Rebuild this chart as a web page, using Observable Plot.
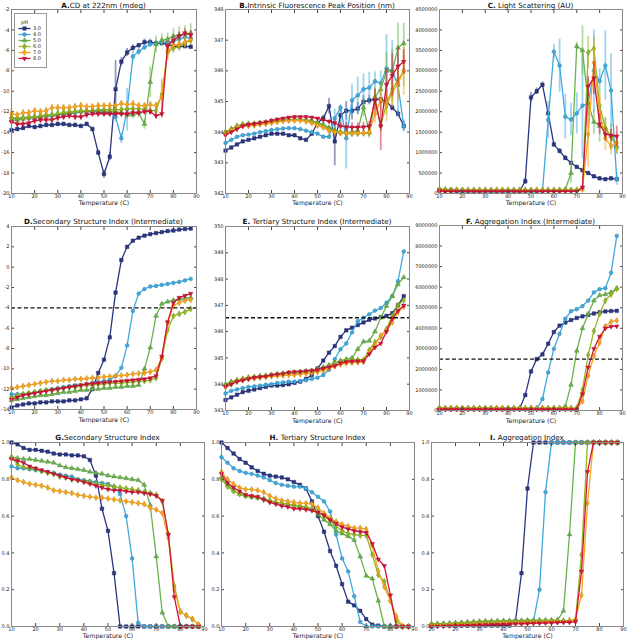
<!DOCTYPE html>
<html><head><meta charset="utf-8">
<script src="https://cdn.jsdelivr.net/npm/d3@7"></script>
<script src="https://cdn.jsdelivr.net/npm/@observablehq/plot@0.6"></script>
<style>
body{margin:0;background:#fff;font-family:"DejaVu Sans",sans-serif;}
#root{position:relative;width:627px;height:640px;overflow:hidden;background:#fff;}
#root svg{position:absolute;}
.title{position:absolute;transform:translateX(-50%);font-size:7.2px;line-height:9px;white-space:nowrap;color:#111;}
</style></head><body><div id="root"></div>
<script>
// ---------- data ----------
const temps = [10,12.5,15,17.5,20,22.5,25,27.5,30,32.5,35,37.5,40,42.5,45,47.5,50,52.5,55,57.5,60,62.5,65,67.5,70,72.5,75,77.5,80,82.5,85,87.5];
const pHs = ["3.0","4.0","5.0","6.0","7.0","8.0"];
const xTicks = [10,20,30,40,50,60,70,80,90];
const cdTicks = [-20,-18,-16,-14,-12,-10,-8,-6,-4,-2];
const fluorTicks = [342,343,344,345,346,347,348];
const lsTicks = [0,500000,1000000,1500000,2000000,2500000,3000000,3500000,4000000,4500000];
const ssiTicks = [-14,-12,-10,-8,-6,-4,-2,0,2,4];
const tsiTicks = [343,344,345,346,347,348,349,350];
const aggTicks = [0,1000000,2000000,3000000,4000000,5000000,6000000,7000000,8000000,9000000];
const unitTicks = [0,0.2,0.4,0.6,0.8,1.0];

// A. CD at 222nm (order: pH 3,4,5,6,7,8)
const cd = [
 [-13.8,-13.7,-13.6,-13.4,-13.5,-13.4,-13.3,-13.3, -13.2,-13.2,-13.3,-13.3,-13.4,-13.2,-13.7,-16.0, -18.1,-16.4,-9.8,-7.1,-6.2,-5.75,-5.5,-5.2, -5.2,-5.3,-5.3,-5.4,-5.6,-5.6,-5.6,-5.65],
 [-12.6,-12.7,-12.6,-12.6,-12.6,-12.5,-12.4,-12.4, -12.3,-12.2,-12.2,-12.1,-12.0,-12.0,-12.0,-12.0, -12.1,-12.1,-12.5,-14.6,-11.8,-6.6,-6.1,-5.7, -5.4,-5.3,-5.2,-5.2,-5.1,-4.9,-4.7,-4.8],
 [-12.8,-12.8,-12.7,-12.6,-12.5,-12.5,-12.4,-12.3, -12.2,-12.2,-12.1,-12.0,-12.0,-11.9,-11.9,-11.9, -11.9,-12.0,-12.0,-12.1,-12.3,-12.3,-12.1,-13.2, -9.1,-5.4,-5.0,-4.9,-4.6,-4.5,-4.4,-4.3],
 [-12.6,-12.6,-12.6,-12.5,-12.5,-12.4,-12.3,-12.3, -12.2,-12.1,-12.0,-12.0,-11.9,-11.9,-11.9,-11.8, -11.8,-11.8,-11.8,-11.8,-11.7,-11.7,-11.7,-11.8, -11.9,-11.9,-10.3,-6.2,-5.8,-5.6,-5.3,-5.0],
 [-12.2,-12.3,-12.1,-12.1,-11.9,-12.0,-11.9,-11.6, -11.6,-11.6,-11.6,-11.5,-11.4,-11.5,-11.5,-11.4, -11.4,-11.4,-11.4,-11.2,-11.3,-11.2,-11.4,-11.4, -11.3,-11.4,-10.5,-6.0,-5.5,-5.4,-5.2,-4.9],
 [-13.0,-13.2,-13.2,-13.1,-12.9,-12.8,-12.8,-12.8, -12.6,-12.5,-12.4,-12.5,-12.5,-12.3,-12.2,-12.2, -12.2,-12.2,-12.2,-12.2,-12.2,-12.1,-12.1,-12.0, -12.0,-12.4,-12.2,-5.6,-5.0,-4.6,-4.3,-4.5]
];
const cdErr = [
 [0.2,0.2,0.2,0.2,0.2,0.2,0.2,0.2, 0.2,0.2,0.2,0.2,0.2,0.2,0.2,0.3, 0.4,0.4,2.8,0.4,0.4,0.3,0.2,0.3, 0.3,0.2,0.2,0.2,0.2,0.2,0.2,0.2],
 [0.3,0.3,0.3,0.3,0.3,0.3,0.3,0.3, 0.3,0.3,0.3,0.3,0.3,0.3,0.3,0.3, 0.3,0.3,0.5,0.5,2.1,0.5,0.4,0.3, 0.3,0.3,0.3,0.3,0.3,0.3,0.3,0.3],
 [0.4,0.4,0.4,0.4,0.4,0.4,0.4,0.4, 0.4,0.4,0.4,0.4,0.4,0.4,0.4,0.4, 0.4,0.4,0.4,0.4,0.4,0.4,0.5,0.5, 1.5,0.8,0.6,0.6,0.7,0.8,0.8,0.9],
 [0.3,0.3,0.3,0.3,0.3,0.3,0.3,0.3, 0.3,0.3,0.3,0.3,0.3,0.3,0.3,0.3, 0.3,0.3,0.3,0.3,0.3,0.3,0.3,0.3, 0.3,0.4,1.5,0.8,0.5,0.5,0.5,0.5],
 [0.5,0.3,0.3,0.3,0.3,0.3,0.3,0.3, 0.3,0.3,0.3,0.3,0.3,0.3,0.3,0.3, 0.3,0.3,0.3,0.3,0.3,0.3,0.3,0.3, 0.3,0.3,1.5,1.0,0.5,0.5,0.5,0.5],
 [0.3,0.3,0.3,0.3,0.3,0.3,0.3,0.3, 0.3,0.3,0.3,0.3,0.3,0.3,0.3,0.3, 0.3,0.3,0.3,0.3,0.3,0.3,0.3,0.3, 0.3,0.3,0.4,0.5,0.4,0.4,0.4,0.4]
];

// B. Intrinsic fluorescence peak position (nm)
const fluor = [
 [343.4,343.5,343.6,343.7,343.75,343.8,343.85,343.9, 343.95,343.95,343.95,343.9,343.9,343.8,343.75,343.95, 344.3,344.45,344.85,343.7,344.55,344.7,344.7,344.77, 344.99,345.04,345.07,345.07,345.0,344.8,344.6,344.2],
 [343.65,343.75,343.85,343.9,343.92,343.95,344.0,344.03, 344.07,344.1,344.12,344.13,344.13,344.1,344.05,344.0, 343.95,343.85,343.85,344.45,344.8,343.8,345.04,345.2, 345.4,345.45,345.66,345.6,346.08,345.99,345.53,344.2],
 [344.0,344.1,344.2,344.25,344.28,344.28,344.3,344.32, 344.35,344.38,344.4,344.42,344.42,344.42,344.4,344.38, 344.3,344.25,344.15,344.05,344.0,344.0,344.0,344.05, 344.8,344.0,345.15,345.4,346.0,346.0,346.75,346.9],
 [344.0,344.1,344.2,344.25,344.25,344.27,344.3,344.32, 344.35,344.37,344.4,344.4,344.42,344.42,344.4,344.35, 344.28,344.2,344.1,344.02,343.97,343.95,343.95,343.95, 343.96,343.97,345.1,344.2,344.95,345.4,345.7,346.0],
 [343.95,344.05,344.15,344.2,344.2,344.22,344.25,344.27, 344.3,344.33,344.36,344.38,344.38,344.38,344.35,344.3, 344.22,344.15,344.05,344.0,343.98,343.97,343.97,343.97, 343.98,344.0,344.6,345.05,344.85,345.3,345.6,346.0],
 [343.9,344.0,344.1,344.2,344.25,344.27,344.3,344.33, 344.38,344.42,344.45,344.48,344.5,344.5,344.5,344.48, 344.45,344.4,344.35,344.3,344.2,344.17,344.16,344.16, 344.17,344.2,345.05,344.2,345.55,345.85,346.15,346.3]
];
const fluorErr = [
 [0.03,0.03,0.03,0.03,0.03,0.03,0.03,0.03, 0.03,0.03,0.03,0.03,0.03,0.03,0.03,0.05, 0.05,0.1,0.25,0.8,0.3,0.3,0.3,0.2, 0.2,0.15,0.15,0.15,0.1,0.1,0.1,0.15],
 [0.03,0.03,0.03,0.03,0.03,0.03,0.03,0.03, 0.03,0.03,0.03,0.03,0.03,0.03,0.03,0.03, 0.05,0.05,0.05,0.3,0.1,1.0,0.5,0.6, 0.5,0.5,0.3,0.4,1.1,1.0,1.0,0.2],
 [0.03,0.03,0.03,0.03,0.03,0.03,0.03,0.03, 0.03,0.03,0.03,0.03,0.03,0.03,0.03,0.03, 0.03,0.03,0.05,0.1,0.1,0.1,0.1,0.1, 0.3,0.2,0.3,0.2,0.6,0.7,0.8,0.65],
 [0.03,0.03,0.03,0.03,0.03,0.03,0.03,0.03, 0.03,0.03,0.03,0.03,0.03,0.03,0.03,0.03, 0.03,0.03,0.03,0.05,0.05,0.05,0.05,0.05, 0.05,0.05,0.3,0.2,0.4,0.5,0.5,0.5],
 [0.03,0.03,0.03,0.03,0.03,0.03,0.03,0.03, 0.03,0.03,0.03,0.03,0.03,0.03,0.03,0.03, 0.03,0.03,0.03,0.03,0.03,0.03,0.03,0.03, 0.05,0.05,0.3,0.4,0.5,0.5,0.6,0.8],
 [0.03,0.03,0.03,0.03,0.03,0.03,0.03,0.03, 0.03,0.03,0.03,0.03,0.03,0.03,0.03,0.03, 0.03,0.03,0.05,0.05,0.1,0.15,0.15,0.15, 0.15,0.15,0.35,0.8,0.5,0.7,0.6,0.4]
];

// C. Light scattering (AU)
const ls = [
 [90000,80000,80000,70000,70000,60000,60000,60000, 60000,60000,60000,60000,60000,60000,60000,300000, 2350000,2500000,2660000,1960000,1200000,1040000,870000,750000, 650000,570000,500000,420000,370000,350000,370000,350000],
 [50000,50000,50000,40000,40000,40000,40000,40000, 40000,40000,40000,40000,40000,40000,40000,40000, 40000,40000,50000,1800000,3470000,3130000,1880000,1810000, 1960000,2150000,2200000,3000000,2750000,3130000,2520000,350000],
 [80000,80000,70000,70000,70000,70000,70000,70000, 70000,70000,70000,70000,70000,70000,70000,70000, 70000,70000,70000,70000,70000,70000,100000,500000, 3600000,3500000,2200000,1750000,1650000,1600000,1400000,1150000],
 [100000,100000,90000,90000,90000,90000,90000,90000, 90000,90000,90000,90000,90000,90000,90000,90000, 90000,90000,90000,90000,90000,90000,90000,90000, 90000,120000,3450000,3550000,2150000,1600000,1400000,1130000],
 [70000,60000,60000,60000,60000,60000,60000,60000, 60000,60000,60000,60000,60000,60000,60000,60000, 60000,60000,60000,60000,60000,60000,60000,60000, 60000,100000,1450000,3200000,2000000,1350000,1150000,1250000],
 [60000,50000,50000,50000,50000,50000,50000,50000, 50000,50000,50000,50000,50000,50000,50000,50000, 50000,50000,50000,50000,50000,50000,50000,50000, 50000,150000,2620000,2820000,1700000,1450000,1420000,1400000]
];
const lsErr = [
 [20000,20000,20000,20000,20000,20000,20000,20000, 20000,20000,20000,20000,20000,20000,20000,80000, 120000,80000,70000,50000,60000,60000,60000,40000, 40000,40000,40000,40000,40000,40000,40000,40000],
 [20000,20000,20000,20000,20000,20000,20000,20000, 20000,20000,20000,20000,20000,20000,20000,20000, 20000,20000,20000,450000,180000,650000,550000,400000, 500000,1300000,300000,1000000,300000,850000,900000,150000],
 [20000,20000,20000,20000,20000,20000,20000,20000, 20000,20000,20000,20000,20000,20000,20000,20000, 20000,20000,20000,20000,20000,20000,30000,250000, 100000,600000,600000,300000,400000,250000,300000,200000],
 [20000,20000,20000,20000,20000,20000,20000,20000, 20000,20000,20000,20000,20000,20000,20000,20000, 20000,20000,20000,20000,20000,20000,20000,20000, 20000,30000,400000,300000,300000,250000,200000,150000],
 [20000,20000,20000,20000,20000,20000,20000,20000, 20000,20000,20000,20000,20000,20000,20000,20000, 20000,20000,20000,20000,20000,20000,20000,20000, 20000,30000,800000,500000,400000,300000,200000,250000],
 [20000,20000,20000,20000,20000,20000,20000,20000, 20000,20000,20000,20000,20000,20000,20000,20000, 20000,20000,20000,20000,20000,20000,20000,20000, 20000,30000,250000,400000,250000,150000,150000,250000]
];

// D. Secondary structure index (intermediate)
const ssiInt = [
 [-13.8,-13.6,-13.5,-13.4,-13.4,-13.3,-13.3,-13.2, -13.2,-13.2,-13.1,-13.1,-13.0,-12.9,-12.0,-10.4, -9.1,-6.9,-2.5,0.7,2.0,2.6,2.9,3.1, 3.25,3.35,3.45,3.55,3.6,3.7,3.75,3.8],
 [-12.5,-12.5,-12.5,-12.4,-12.3,-12.2,-12.1,-12.0, -11.9,-11.8,-11.7,-11.6,-11.6,-11.5,-11.4,-11.3, -11.2,-11.1,-10.7,-9.9,-7.7,-4.3,-2.6,-2.15, -1.9,-1.85,-1.75,-1.65,-1.55,-1.45,-1.3,-1.15],
 [-13.1,-13.0,-12.9,-12.8,-12.7,-12.6,-12.6,-12.5, -12.4,-12.3,-12.3,-12.2,-12.1,-12.1,-12.0,-12.0, -11.9,-11.9,-11.8,-11.8,-11.7,-11.7,-11.6,-10.0, -7.9,-4.8,-3.6,-3.4,-3.25,-3.15,-3.05,-3.0],
 [-12.8,-12.6,-12.5,-12.4,-12.3,-12.2,-12.1,-12.1, -12.0,-11.9,-11.8,-11.8,-11.7,-11.6,-11.6,-11.5, -11.5,-11.4,-11.4,-11.4,-11.3,-11.3,-11.2,-11.2, -11.1,-10.9,-9.0,-6.2,-4.8,-4.6,-4.4,-4.1],
 [-11.9,-11.8,-11.7,-11.6,-11.5,-11.4,-11.3,-11.2, -11.2,-11.1,-11.1,-11.0,-11.0,-10.95,-10.9,-10.85, -10.8,-10.75,-10.7,-10.65,-10.6,-10.5,-10.45,-10.4, -10.3,-10.1,-8.9,-5.5,-3.8,-3.5,-3.3,-3.2],
 [-13.0,-12.8,-12.6,-12.5,-12.4,-12.3,-12.2,-12.1, -12.0,-11.9,-11.8,-11.7,-11.6,-11.5,-11.45,-11.4, -11.35,-11.3,-11.25,-11.2,-11.15,-11.1,-11.05,-11.0, -10.9,-10.7,-8.8,-5.4,-3.5,-3.0,-2.8,-2.6]
];
// E. Tertiary structure index (intermediate)
const tsiInt = [
 [343.4,343.5,343.6,343.7,343.75,343.8,343.85,343.9, 343.95,343.95,343.97,344.0,344.05,344.1,344.2,344.35, 344.6,344.9,345.2,345.45,345.8,346.05,346.15,346.25, 346.35,346.45,346.5,346.55,346.6,346.7,347.0,347.35],
 [343.65,343.75,343.8,343.85,343.9,343.92,343.95,343.98, 344.0,344.05,344.07,344.1,344.1,344.12,344.15,344.2, 344.25,344.35,344.55,344.95,345.33,345.55,345.97,346.4, 346.53,346.66,346.8,346.9,347.1,347.35,347.92,349.05],
 [344.0,344.1,344.15,344.2,344.25,344.28,344.3,344.32, 344.35,344.38,344.4,344.43,344.45,344.47,344.5,344.52, 344.58,344.65,344.72,344.8,344.9,344.95,345.0,345.33, 345.62,345.65,346.0,346.53,346.97,347.35,347.8,348.07],
 [343.95,344.05,344.15,344.2,344.25,344.27,344.3,344.32, 344.35,344.37,344.4,344.42,344.43,344.45,344.47,344.5, 344.55,344.6,344.7,344.8,344.85,344.9,344.92,344.93, 344.93,345.3,345.6,345.8,346.1,346.6,347.0,347.2],
 [343.9,344.0,344.1,344.15,344.2,344.22,344.25,344.27, 344.3,344.32,344.33,344.35,344.36,344.38,344.4,344.43, 344.47,344.52,344.6,344.68,344.75,344.8,344.82,344.83, 344.85,345.2,345.5,345.85,346.05,346.35,346.75,346.95],
 [343.9,344.0,344.1,344.15,344.2,344.25,344.28,344.3, 344.35,344.38,344.4,344.45,344.47,344.48,344.5,344.52, 344.55,344.6,344.65,344.7,344.8,344.85,344.87,344.88, 344.88,345.15,345.4,345.55,346.0,346.5,346.8,347.0]
];
// F. Aggregation index (intermediate)
const aggInt = [
 [80000,80000,80000,80000,80000,80000,80000,80000, 80000,80000,80000,80000,80000,80000,80000,750000, 1900000,2500000,2730000,3250000,3820000,4130000,4280000,4400000, 4500000,4580000,4650000,4720000,4780000,4820000,4840000,4850000],
 [60000,60000,60000,60000,60000,60000,60000,60000, 60000,60000,60000,60000,60000,60000,60000,60000, 60000,60000,560000,1850000,3000000,3730000,4470000,4830000, 4930000,5080000,5350000,5750000,5900000,5950000,6700000,8500000],
 [100000,100000,100000,100000,100000,100000,100000,100000, 100000,100000,100000,100000,100000,100000,100000,100000, 100000,100000,100000,100000,100000,100000,200000,1250000, 2900000,4000000,4700000,5350000,5600000,5650000,5750000,5950000],
 [120000,120000,120000,120000,120000,120000,120000,120000, 120000,120000,120000,120000,120000,120000,120000,120000, 120000,120000,120000,120000,120000,120000,120000,120000, 130000,1000000,2700000,3870000,4700000,5350000,5650000,5920000],
 [80000,80000,80000,80000,80000,80000,80000,80000, 80000,80000,80000,80000,80000,80000,80000,80000, 80000,80000,80000,80000,80000,80000,80000,80000, 80000,450000,1700000,2650000,3300000,4100000,4320000,4380000],
 [50000,50000,50000,50000,50000,50000,50000,50000, 50000,50000,50000,50000,50000,50000,50000,50000, 50000,50000,50000,50000,50000,50000,50000,50000, 50000,800000,2100000,3000000,3600000,4000000,4080000,4100000]
];
// G. Secondary structure index
const ssi = [
 [1.0,0.99,0.97,0.96,0.96,0.955,0.95,0.94, 0.935,0.935,0.93,0.93,0.925,0.905,0.82,0.64, 0.52,0.29,0,0,0,0,0,0, 0,0,0,0,0,0,0,0],
 [0.87,0.86,0.86,0.855,0.85,0.845,0.84,0.835, 0.825,0.82,0.815,0.8,0.795,0.79,0.785,0.78, 0.775,0.76,0.72,0.6,0.37,0.02,0,0, 0,0,0,0,0,0,0,0],
 [0.92,0.915,0.91,0.91,0.905,0.9,0.895,0.89, 0.875,0.865,0.86,0.855,0.85,0.84,0.835,0.83, 0.82,0.815,0.81,0.805,0.8,0.795,0.77,0.66, 0.38,0.075,0,0,0,0,0,0],
 [0.92,0.88,0.865,0.86,0.855,0.845,0.835,0.83, 0.815,0.81,0.8,0.795,0.79,0.785,0.775,0.77, 0.765,0.76,0.755,0.75,0.745,0.74,0.73,0.725, 0.715,0.68,0.5,0.22,0.08,0.06,0.04,0.01],
 [0.81,0.795,0.785,0.775,0.77,0.765,0.755,0.74, 0.735,0.73,0.725,0.715,0.71,0.705,0.7,0.7, 0.695,0.69,0.685,0.68,0.675,0.67,0.665,0.645, 0.635,0.615,0.48,0.2,0.08,0.06,0.04,0.01],
 [0.91,0.9,0.89,0.87,0.86,0.85,0.84,0.83, 0.82,0.81,0.8,0.795,0.785,0.775,0.765,0.755, 0.745,0.74,0.74,0.735,0.73,0.73,0.725,0.72, 0.71,0.685,0.5,0.16,0,0,0,0]
];
// H. Tertiary structure index
const tsi = [
 [1.0,0.97,0.94,0.91,0.89,0.865,0.845,0.83, 0.82,0.815,0.81,0.8,0.785,0.77,0.75,0.68, 0.6,0.515,0.41,0.33,0.23,0.135,0.115,0.085, 0.04,0.01,0.005,0,0,0,0,0],
 [0.92,0.89,0.86,0.845,0.835,0.83,0.82,0.81, 0.795,0.78,0.77,0.765,0.76,0.76,0.75,0.73, 0.705,0.68,0.625,0.5,0.37,0.3,0.165,0.025, 0,0,0,0,0,0,0,0],
 [0.81,0.77,0.74,0.72,0.71,0.705,0.7,0.695, 0.685,0.675,0.67,0.665,0.66,0.655,0.645,0.635, 0.61,0.58,0.555,0.52,0.505,0.49,0.47,0.38, 0.275,0.26,0.14,0,0,0,0,0],
 [0.8,0.76,0.735,0.72,0.71,0.705,0.7,0.69, 0.68,0.675,0.67,0.665,0.66,0.655,0.65,0.64, 0.625,0.6,0.575,0.545,0.52,0.505,0.5,0.495, 0.495,0.39,0.28,0.245,0.14,0.03,0,0],
 [0.84,0.8,0.775,0.755,0.745,0.745,0.74,0.73, 0.71,0.695,0.685,0.68,0.675,0.67,0.67,0.665, 0.645,0.615,0.59,0.57,0.555,0.545,0.535,0.535, 0.53,0.44,0.3,0.215,0.14,0.055,0,0],
 [0.83,0.78,0.755,0.735,0.715,0.71,0.705,0.69, 0.675,0.665,0.655,0.65,0.64,0.64,0.635,0.63, 0.62,0.605,0.58,0.56,0.54,0.53,0.52,0.515, 0.51,0.45,0.365,0.33,0.17,0,0,0]
];
// I. Aggregation index
const agg = [
 [0.005,0.005,0.005,0.005,0.005,0.005,0.005,0.005, 0.005,0.005,0.005,0.005,0.005,0.005,0.03,0.29, 0.75,1,1,1,1,1,1,1, 1,1,1,1,1,1,1,1],
 [0.01,0.01,0.012,0.013,0.015,0.016,0.018,0.02, 0.02,0.022,0.024,0.025,0.026,0.027,0.028,0.029, 0.03,0.03,0.2,0.73,1,1,1,1, 1,1,1,1,1,1,1,1],
 [0.015,0.016,0.017,0.018,0.02,0.022,0.024,0.026, 0.028,0.03,0.03,0.031,0.032,0.032,0.033,0.033, 0.034,0.034,0.035,0.035,0.035,0.035,0.085,0.5, 1,1,1,1,1,1,1,1],
 [0.01,0.011,0.012,0.014,0.016,0.018,0.02,0.021, 0.022,0.024,0.025,0.026,0.027,0.027,0.028,0.028, 0.029,0.029,0.03,0.03,0.031,0.031,0.032,0.033, 0.035,0.39,1,1,1,1,1,1],
 [0.005,0.006,0.007,0.008,0.009,0.01,0.011,0.012, 0.013,0.014,0.015,0.016,0.017,0.018,0.019,0.02, 0.021,0.022,0.023,0.024,0.025,0.026,0.027,0.028, 0.04,0.17,0.67,1,1,1,1,1],
 [0.0,0.001,0.002,0.003,0.004,0.005,0.006,0.007, 0.008,0.009,0.01,0.011,0.012,0.013,0.014,0.015, 0.016,0.017,0.018,0.019,0.02,0.021,0.022,0.023, 0.025,0.3,0.84,1,1,1,1,1]
];

// ---------- styling ----------
const colors = ["#2a3680","#40a9dd","#69b34c","#93b822","#f7a51c","#d2143a"];
const edges = colors.map(c => d3.color(c).darker(0.9).formatHex());
const sqrt3 = Math.sqrt(3);
const triDown = {draw(ctx, size) { const y = Math.sqrt(size / (sqrt3 * 3)); ctx.moveTo(0, 2 * y); ctx.lineTo(-sqrt3 * y, -y); ctx.lineTo(sqrt3 * y, -y); ctx.closePath(); }};
const thinDiamond = {draw(ctx, size) { const h = Math.sqrt(size) * 0.95, w = h * 0.6; ctx.moveTo(0, -h); ctx.lineTo(w, 0); ctx.lineTo(0, h); ctx.lineTo(-w, 0); ctx.closePath(); }};
const symbols = ["square","circle","triangle","diamond", thinDiamond, triDown];
const symR = [2.0, 1.9, 1.8, 1.9, 1.8, 1.7];
const FS = 5;
const fmtInt = d => String(d);
const fmt1 = d => d.toFixed(1);

const panels = [
 {b:"A.", t:"CD at 222nm (mdeg)", s:cd, e:cdErr, f:[11,9,196,193], y:[-20,-2], yt:cdTicks, fmt:fmtInt, ty:5, ld:11.5},
 {b:"B.", t:"Intrinsic Fluorescence Peak Position (nm)", s:fluor, e:fluorErr, f:[225,9,409,193], y:[342,348], yt:fluorTicks, fmt:fmtInt, ty:5, ld:11.5},
 {b:"C.", t:" Light Scattering (AU)", s:ls, e:lsErr, f:[439,9,622,193], y:[0,4500000], yt:lsTicks, fmt:fmtInt, ty:5, ld:11.5},
 {b:"D.", t:"Secondary Structure Index (Intermediate)", s:ssiInt, f:[11,226,196,409], y:[-14,4], yt:ssiTicks, fmt:fmtInt, ref:-4, ty:221, ld:12.5},
 {b:"E.", t:" Tertiary Structure Index (Intermediate)", s:tsiInt, f:[225,226,409,410], y:[343,350], yt:tsiTicks, fmt:fmtInt, ref:346.53, ty:221, ld:12},
 {b:"F.", t:" Aggregation Index (Intermediate)", s:aggInt, f:[439,225,622,410], y:[0,9000000], yt:aggTicks, fmt:fmtInt, ref:2500000, ty:221, ld:12},
 {b:"G.", t:"Secondary Structure Index", s:ssi, f:[11,442,204,626], y:[0,1], yt:unitTicks, fmt:fmt1, ty:437, ld:11.2},
 {b:"H.", t:" Tertiary Structure Index", s:tsi, f:[221,442,414,626], y:[0,1], yt:unitTicks, fmt:fmt1, ty:437, ld:11.2},
 {b:"I.", t:" Aggregation Index", s:agg, f:[431,442,623,626], y:[0,1], yt:unitTicks, fmt:fmt1, ty:437, ld:11.2}
];

const root = document.getElementById("root");
const svgStyle = {background: "none", fontFamily: "DejaVu Sans, sans-serif", overflow: "visible", maxWidth: "none", color: "#222"};

for (const p of panels) {
  const [x0, y0, x1, y1] = p.f;
  const mL = 34, mR = 6, mT = 4, mB = 18;
  const marks = [];
  p.s.forEach((vals, k) => {
    const rows = vals.map((v, i) => ({t: temps[i], v, e: p.e ? p.e[k][i] : 0}));
    if (p.e) marks.push(Plot.ruleX(rows, {x: "t", y1: d => d.v - d.e, y2: d => d.v + d.e, stroke: colors[k], strokeOpacity: 0.5, strokeWidth: 1.8}));
    marks.push(Plot.line(rows, {x: "t", y: "v", stroke: colors[k], strokeWidth: 1.3}));
    marks.push(Plot.dot(rows, {x: "t", y: "v", symbol: symbols[k], r: symR[k], fill: colors[k], stroke: edges[k], strokeWidth: 0.4}));
  });
  if (p.ref !== undefined) marks.push(Plot.ruleY([p.ref], {stroke: "#111", strokeWidth: 1.4, strokeDasharray: "4,2.5"}));
  marks.push(
    Plot.axisX({anchor: "bottom", ticks: xTicks, tickSize: 0, tickPadding: 1, fontSize: FS, tickFormat: fmtInt, label: null}),
    Plot.axisY({anchor: "left", ticks: p.yt, tickSize: 0, tickPadding: 2, fontSize: FS, tickFormat: p.fmt, label: null}),
    Plot.axisX({anchor: "bottom", ticks: xTicks, tickSize: -3, tickFormat: () => "", label: null, stroke: "#444"}),
    Plot.axisX({anchor: "top", ticks: xTicks, tickSize: -3, tickFormat: () => "", label: null, stroke: "#444"}),
    Plot.axisY({anchor: "left", ticks: p.yt, tickSize: -3, tickFormat: () => "", label: null, stroke: "#444"}),
    Plot.axisY({anchor: "right", ticks: p.yt, tickSize: -3, tickFormat: () => "", label: null, stroke: "#444"}),
    Plot.text(["Temperature (C)"], {text: d => d, frameAnchor: "bottom", dy: p.ld, fontSize: 6.2, fill: "#222"}),
    Plot.frame({stroke: "#888", strokeWidth: 1})
  );
  const svg = Plot.plot({
    width: x1 - x0 + mL + mR, height: y1 - y0 + mT + mB,
    marginLeft: mL, marginRight: mR, marginTop: mT, marginBottom: mB,
    x: {domain: [10, 90]}, y: {domain: p.y},
    style: svgStyle,
    marks
  });
  svg.style.left = (x0 - mL) + "px";
  svg.style.top = (y0 - mT) + "px";
  root.appendChild(svg);

  const title = document.createElement("div");
  title.className = "title";
  const bold = document.createElement("b");
  bold.textContent = p.b;
  title.appendChild(bold);
  title.appendChild(document.createTextNode(p.t));
  title.style.left = ((x0 + x1) / 2) + "px";
  title.style.top = (p.ty - 4.5) + "px";
  root.appendChild(title);
}

// legend (inside panel A)
const legMarks = [Plot.frame({fill: "white", stroke: "#999"})];
legMarks.push(Plot.text(["pH"], {x: 0.5, y: d => d, text: d => d, fontSize: FS, fill: "#222"}));
pHs.forEach((ph, k) => {
  legMarks.push(Plot.link([ph], {x1: 0, x2: 1, y1: d => d, y2: d => d, stroke: colors[k], strokeWidth: 1.3}));
  legMarks.push(Plot.dot([ph], {x: 0.5, y: d => d, symbol: symbols[k], r: symR[k], fill: colors[k], stroke: edges[k], strokeWidth: 0.4}));
});
legMarks.push(Plot.text(pHs, {x: 1, y: d => d, text: d => d, dx: 2.5, textAnchor: "start", fontSize: FS, fill: "#222"}));
const leg = Plot.plot({
  width: 32, height: 54, margin: 0,
  x: {domain: [0, 1], range: [4, 16], axis: null},
  y: {type: "point", domain: ["pH", ...pHs], range: [4, 49.5], axis: null},
  style: svgStyle,
  marks: legMarks
});
leg.style.left = "14px";
leg.style.top = "13px";
root.appendChild(leg);
</script>
</body></html>
